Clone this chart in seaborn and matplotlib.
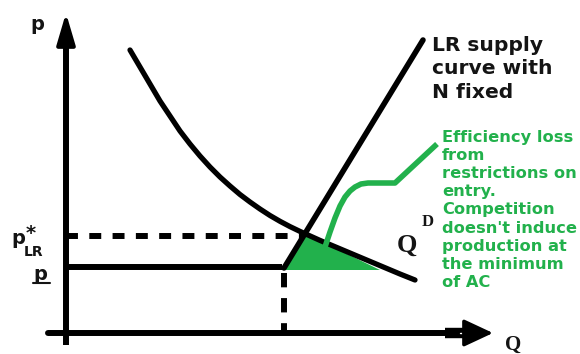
import numpy as np
import pandas as pd
import matplotlib.pyplot as plt
import seaborn as sns

# curves in (quantity, price) units, origin where the axes cross
demand_q = [64, 74, 84, 94, 104, 114, 124, 134, 144, 154, 164, 174, 184, 194, 204,
            214, 224, 234, 254, 274, 294, 314, 334, 349]
demand_p = [283, 266, 249, 232, 217, 202, 189, 177, 166, 156, 147, 138.5, 131, 124, 117.5,
            111.7, 106.4, 101.6, 92.6, 84.2, 75.8, 67.4, 59, 53]
supply_q = [218, 357]
supply_p = [65, 293]
p_star = 97
p_floor = 66
q_bar = 218
q_star = 236
loss_q = [216, 238, 314]
loss_p = [63, 100, 63]
pointer_q = [259, 264, 269, 274, 279, 284, 289, 295, 302, 329, 371]
pointer_p = [86, 101, 115, 127, 136, 142, 146, 149, 150, 150, 189]

green = '#22b14c'
ink = '#141414'

sns.set_theme(style='white')
plt.rcParams['font.family'] = ['DejaVu Sans']

fig = plt.figure(figsize=(5.8, 3.54), dpi=100)
ax = fig.add_axes([0, 0, 1, 1])
ax.set_xlim(-66, 514)
ax.set_ylim(-21, 333)
ax.axis('off')

# axes with arrows
ax.plot([0, 0], [-12, 290], color='black', lw=4.3, solid_capstyle='butt')
ax.annotate('', xy=(0, 320), xytext=(0, 285),
            arrowprops=dict(arrowstyle='-|>,head_length=0.95,head_width=0.28', lw=3,
                            color='black', mutation_scale=20, shrinkA=0, shrinkB=0))
ax.plot([-18, 380], [0, 0], color='black', lw=4.3, solid_capstyle='round')
ax.plot([379, 401], [0, 0], color='black', lw=7.5, solid_capstyle='butt')
ax.annotate('', xy=(427, 0), xytext=(398, 0),
            arrowprops=dict(arrowstyle='-|>,head_length=0.9,head_width=0.42', lw=2.5,
                            color='black', mutation_scale=20, shrinkA=0, shrinkB=0))
ax.plot([394, 414], [0, 0], color='white', lw=1)

# green area
ax.fill(loss_q, loss_p, color=green, lw=0, zorder=2)

# price lines
ax.plot([0, q_star], [p_star, p_star], color='black', lw=4.3, dashes=(2.0, 1.9), zorder=3)
ax.plot([0, q_bar - 2], [p_floor, p_floor], color='black', lw=4.3, solid_capstyle='butt', zorder=3)
ax.plot([q_bar, q_bar], [p_floor - 6, 0], color='black', lw=4.3, dashes=(2.4, 1.8), zorder=3)

# demand and supply
curves = pd.DataFrame({'Q': demand_q, 'p': demand_p})
sns.lineplot(data=curves, x='Q', y='p', sort=False, color='black', lw=3.8, ax=ax,
             zorder=4, solid_capstyle='round', solid_joinstyle='round')
sns.lineplot(x=supply_q, y=supply_p, sort=False, color='black', lw=4.0, ax=ax,
             zorder=4, solid_capstyle='round')
sns.lineplot(x=pointer_q, y=pointer_p, sort=False, color=green, lw=4.0, ax=ax,
             zorder=4, solid_capstyle='butt', solid_joinstyle='round')

# labels
ax.text(-36, 309, 'p', fontsize=14, fontweight='bold', color=ink, ha='left', va='center')
ax.text(439, -2, 'Q', fontsize=15, fontweight='bold', color=ink, ha='left', va='top',
        family='Liberation Serif')
ax.text(-55, 94, 'p', fontsize=14, fontweight='bold', color=ink, ha='left', va='center')
ax.text(-40, 100, '*', fontsize=14, fontweight='bold', color=ink, ha='left', va='center')
ax.text(-42, 81, 'LR', fontsize=10, fontweight='bold', color=ink, ha='left', va='center')
ax.text(-33, 58, 'p', fontsize=14, fontweight='bold', color=ink, ha='left', va='center')
ax.plot([-33, -16], [50, 50], color=ink, lw=1.5)
ax.text(331, 88, 'Q', fontsize=19, fontweight='bold', color=ink, ha='left', va='center',
        family='Liberation Serif')
ax.text(356, 111, 'D', fontsize=12, fontweight='bold', color=ink, ha='left', va='center',
        family='Liberation Serif')
ax.text(366, 297, 'LR supply\ncurve with\nN fixed', fontsize=14.6, fontweight='bold',
        color=ink, ha='left', va='top', linespacing=1.3)
ax.text(376, 203, "Efficiency loss\nfrom\nrestrictions on\nentry.\nCompetition\n"
        "doesn't induce\nproduction at\nthe minimum\nof AC", fontsize=11.7,
        fontweight='bold', color=green, ha='left', va='top', linespacing=1.26)

fig.savefig('out.png', dpi=100)
